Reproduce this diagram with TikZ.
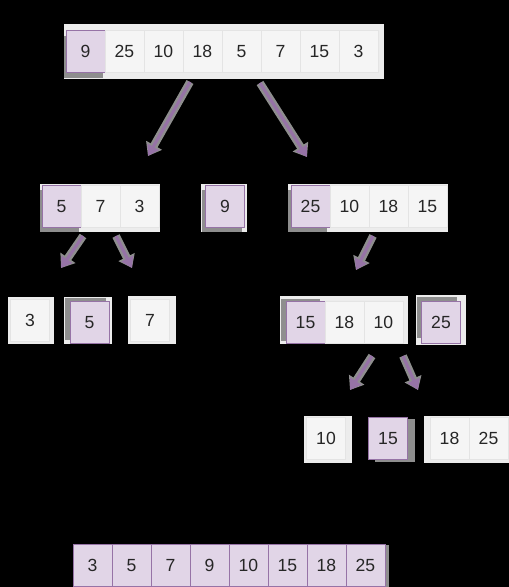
\documentclass[tikz,border=0pt]{standalone}
\usepackage{fontspec}
\setmainfont{Liberation Sans}
\usetikzlibrary{positioning,calc,arrows.meta}

\definecolor{pfill}{HTML}{E1D5E7}
\definecolor{pline}{HTML}{9673A6}
\definecolor{wfill}{HTML}{F5F5F5}
\definecolor{wline}{HTML}{E4E4E4}
\definecolor{padc}{HTML}{ECECEC}
\definecolor{shade}{HTML}{8E8E8E}

\tikzset{
  cell/.style={draw=wline, fill=wfill, line width=0.5pt,
    minimum width=0.78cm, minimum height=0.84cm,
    inner sep=0pt, outer sep=0pt, text=black!85,
    text height=7.2pt, text depth=0pt,
    font=\fontsize{10}{12}\selectfont},
  pcell/.style={cell, draw=pline, fill=pfill},
  pad/.style={fill=padc},
  shd/.style={fill=shade},
  arr/.style={draw=pline, line width=1.8pt,
    -{Triangle[length=6pt,width=7pt]},
    preaction={draw=shade, line width=4.5pt,
      -{Triangle[length=7pt,width=10pt]}}}
}

\begin{document}
\begin{tikzpicture}[x=0.02cm, y=-0.02cm]
\fill[black] (0,0) rectangle (509,587);
\useasboundingbox (0,0) rectangle (509,587);

% pads behind each group
\fill[pad] (64,24) rectangle (384,79);
\fill[pad] (40,184) rectangle (160,232);
\fill[pad] (201,184) rectangle (247,232);
\fill[pad] (288,184) rectangle (448,232);
\fill[pad] (8,297) rectangle (54,344);
\fill[pad] (64,297) rectangle (112,344);
\fill[pad] (128,296) rectangle (176,344);
\fill[pad] (280,296) rectangle (408,344);
\fill[pad] (416,295) rectangle (466,345);
\fill[pad] (304,416) rectangle (352,463);
\fill[pad] (424,416) rectangle (509,463);

% shadows of the purple cells
\fill[shd] (64,36) rectangle (103,78);
\fill[shd] (40,190) rectangle (79,232);
\fill[shd] (202,190) rectangle (242,232);
\fill[shd] (288,190) rectangle (327,232);
\fill[shd] (65,298) rectangle (106,340);
\fill[shd] (281,299) rectangle (320,341);
\fill[shd] (417,297) rectangle (457,338);
\fill[shd] (375,419) rectangle (415,462);
\fill[shd] (76,545) rectangle (389,587);

% first split
\node[pcell] (a0) at (85.5,51) {9};
\node[cell] (a1) [right=0pt of a0] {25};
\node[cell] (a2) [right=0pt of a1] {10};
\node[cell] (a3) [right=0pt of a2] {18};
\node[cell] (a4) [right=0pt of a3] {5};
\node[cell] (a5) [right=0pt of a4] {7};
\node[cell] (a6) [right=0pt of a5] {15};
\node[cell] (a7) [right=0pt of a6] {3};

% second level
\node[pcell] (b0) at (61.5,206) {5};
\node[cell] (b1) [right=0pt of b0] {7};
\node[cell] (b2) [right=0pt of b1] {3};

\node[pcell] (c0) at (225,206) {9};

\node[pcell] (d0) at (310.5,206) {25};
\node[cell] (d1) [right=0pt of d0] {10};
\node[cell] (d2) [right=0pt of d1] {18};
\node[cell] (d3) [right=0pt of d2] {15};

% third level
\node[cell] (e0) at (30,320) {3};
\node[pcell] (f0) at (89.5,322) {5};
\node[cell] (g0) at (150,320) {7};

\node[pcell] (h0) at (305.5,322) {15};
\node[cell] (h1) [right=0pt of h0] {18};
\node[cell] (h2) [right=0pt of h1] {10};

\node[pcell] (k0) at (441,322) {25};

% fourth level
\node[cell] (m0) at (326,438) {10};
\node[pcell] (n0) at (388,438) {15};
\node[cell] (p0) at (449.5,438) {18};
\node[cell] (p1) [right=0pt of p0] {25};

% sorted result
\node[pcell] (s0) at (92.5,565) {3};
\node[pcell] (s1) [right=0pt of s0] {5};
\node[pcell] (s2) [right=0pt of s1] {7};
\node[pcell] (s3) [right=0pt of s2] {9};
\node[pcell] (s4) [right=0pt of s3] {10};
\node[pcell] (s5) [right=0pt of s4] {15};
\node[pcell] (s6) [right=0pt of s5] {18};
\node[pcell] (s7) [right=0pt of s6] {25};

% arrow ends
\coordinate (u1) at (190,82);  \coordinate (v1) at (148,156);
\coordinate (u2) at (260,83);  \coordinate (v2) at (307,157);
\coordinate (u3) at (83,236);  \coordinate (v3) at (61,268);
\coordinate (u4) at (116,236); \coordinate (v4) at (132,268);
\coordinate (u5) at (373,236); \coordinate (v5) at (356,270);
\coordinate (u6) at (372,356); \coordinate (v6) at (350,390);
\coordinate (u7) at (403,356); \coordinate (v7) at (418,390);

\draw[arr] (u1) -- (v1);
\draw[arr] (u2) -- (v2);
\draw[arr] (u3) -- (v3);
\draw[arr] (u4) -- (v4);
\draw[arr] (u5) -- (v5);
\draw[arr] (u6) -- (v6);
\draw[arr] (u7) -- (v7);
\end{tikzpicture}
\end{document}
